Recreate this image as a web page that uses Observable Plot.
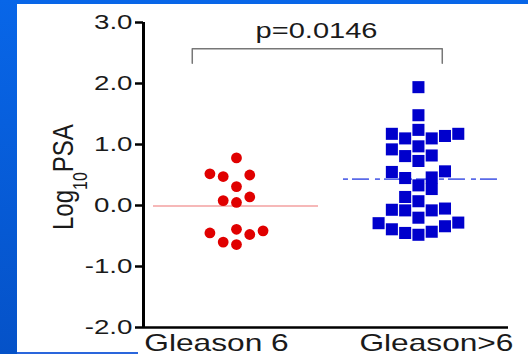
<!DOCTYPE html>
<html><head><meta charset="utf-8">
<script src="https://cdn.jsdelivr.net/npm/d3@7"></script>
<script src="https://cdn.jsdelivr.net/npm/@observablehq/plot@0.6"></script>
<style>
html,body{margin:0;padding:0;width:528px;height:354px;overflow:hidden;}
body{background:linear-gradient(to bottom,#0866e8,#0552c8);position:relative;font-family:"Liberation Sans",Arial,sans-serif;}
#paper{position:absolute;left:17px;top:4px;width:511px;height:350px;background:#fff;}
#strip{position:absolute;left:17px;top:352px;width:121px;height:2px;background:#2a66dc;}
#chart{position:absolute;left:0;top:0;width:528px;height:354px;}
</style></head><body>
<div id="paper"></div><div id="strip"></div><div id="chart"></div>
<script>
// ---- data ----
const groups = ["Gleason 6", "Gleason>6"];
const gleason6Values = [0.78, 0.52, 0.475, 0.50, 0.31, 0.08, 0.05, 0.14, -0.45, -0.60, -0.39, -0.64, -0.475, -0.415];
const gleason6Slots  = [0, -2, -1, 1, 0, -1, 0, 1, -2, -1, 0, 0, 1, 2];
const gleasonHighValues = [1.94, 1.48, 1.175, 1.10, 1.24, 1.10, 1.14, 1.175, 0.92, 0.81, 0.97, 0.73, 0.82,
  0.55, 0.45, 0.33, 0.46, 0.56, 0.27, 0.14, 0.07, -0.07, -0.08, -0.20, -0.08, -0.05,
  -0.29, -0.39, -0.45, -0.48, -0.43, -0.34, -0.28];
const gleasonHighSlots = [0, 0, -2, -1, 0, 1, 2, 3, -2, -1, 0, 0, 1,
  -2, -1, 0, 1, 2, 1, -1, 0, -2, -1, 0, 1, 2,
  -3, -2, -1, 0, 1, 2, 3];
const yTicks = [-2, -1, 0, 1, 2, 3];
const pLabel = "p=0.0146";

// ---- tables ----
const slotWidth = 0.073;
const xDomain = [0.489, 2.495];
const red = gleason6Values.map((v, i) => ({g: 1, slot: gleason6Slots[i], value: v}));
const blue = gleasonHighValues.map((v, i) => ({g: 2, slot: gleasonHighSlots[i], value: v}));
const bracket = [
  {x: 1 - 0.243, y: 2.33}, {x: 1 - 0.243, y: 2.57},
  {x: 2 + 0.131, y: 2.57}, {x: 2 + 0.131, y: 2.33}
];
const ink = "#1a1a1a";

const plot = Plot.plot({
  width: 528, height: 354,
  marginLeft: 143, marginRight: 20, marginTop: 22, marginBottom: 27,
  x: {type: "linear", domain: xDomain, axis: null},
  y: {domain: [-2, 3], axis: null},
  style: {background: "transparent", fontFamily: "Liberation Sans, Arial, sans-serif", color: ink, overflow: "visible"},
  marks: [
    Plot.ruleY([d3.mean(gleason6Values)], {x1: 1 - 0.456, x2: 1 + 0.451, stroke: "#f3a0a0", strokeWidth: 1.6}),
    Plot.ruleY([d3.mean(gleasonHighValues)], {x1: 2 - 0.412, x2: 2 + 0.44, stroke: "#5a6ae8", strokeWidth: 1.6, strokeDasharray: "5,4,17,6"}),
    Plot.dot(red, {x: d => d.g + d.slot * slotWidth, y: "value", r: 5.4, fill: "#e00000", stroke: "none"}),
    Plot.dot(blue, {x: d => d.g + d.slot * slotWidth, y: "value", symbol: "square", r: 6.8, fill: "#0000cc", stroke: "none"}),
    Plot.ruleX([xDomain[0]], {y1: -2, y2: 3, stroke: "#000", strokeWidth: 3}),
    Plot.ruleY([-2], {x1: xDomain[0], x2: xDomain[1], stroke: "#000", strokeWidth: 2.5}),
    Plot.axisY({ticks: yTicks, tickFormat: d => d.toFixed(1), tickSize: 8, tickPadding: 3, fontSize: 21, strokeWidth: 2.5, stroke: "#000", fill: ink, label: null}),
    Plot.line(bracket, {x: "x", y: "y", stroke: "#777", strokeWidth: 1.5}),
    Plot.text([pLabel], {x: 1.44, y: 2.738, text: d => d, fontSize: 22, lineAnchor: "bottom", fill: ink}),
    Plot.text([groups[0]], {x: 1, y: -2, text: d => d, dx: -20, dy: 6, fontSize: 24, lineAnchor: "top", fill: ink}),
    Plot.text([groups[1]], {x: 2, y: -2, text: d => d, dx: 18, dy: 6, fontSize: 24, lineAnchor: "top", fill: ink})
  ]
});
document.getElementById("chart").appendChild(plot);

// the reference picture is stretched horizontally: widen glyphs accordingly
const stretch = 1.32;
d3.select(plot).selectAll("text").each(function() {
  const w = this.getComputedTextLength();
  this.setAttribute("textLength", (w * stretch).toFixed(1));
  this.setAttribute("lengthAdjust", "spacingAndGlyphs");
});

// y-axis title with subscript
const yt = d3.select(plot).append("text")
  .attr("transform", "translate(73,230) scale(1.25,1) rotate(-90)")
  .attr("text-anchor", "start")
  .attr("font-size", 24).attr("fill", ink)
  .attr("font-family", "Liberation Sans, Arial, sans-serif");
yt.append("tspan").text("Log");
yt.append("tspan").attr("font-size", 16).attr("dy", 11).text("10");
yt.append("tspan").attr("dy", -11).text("PSA");
</script>
</body></html>
